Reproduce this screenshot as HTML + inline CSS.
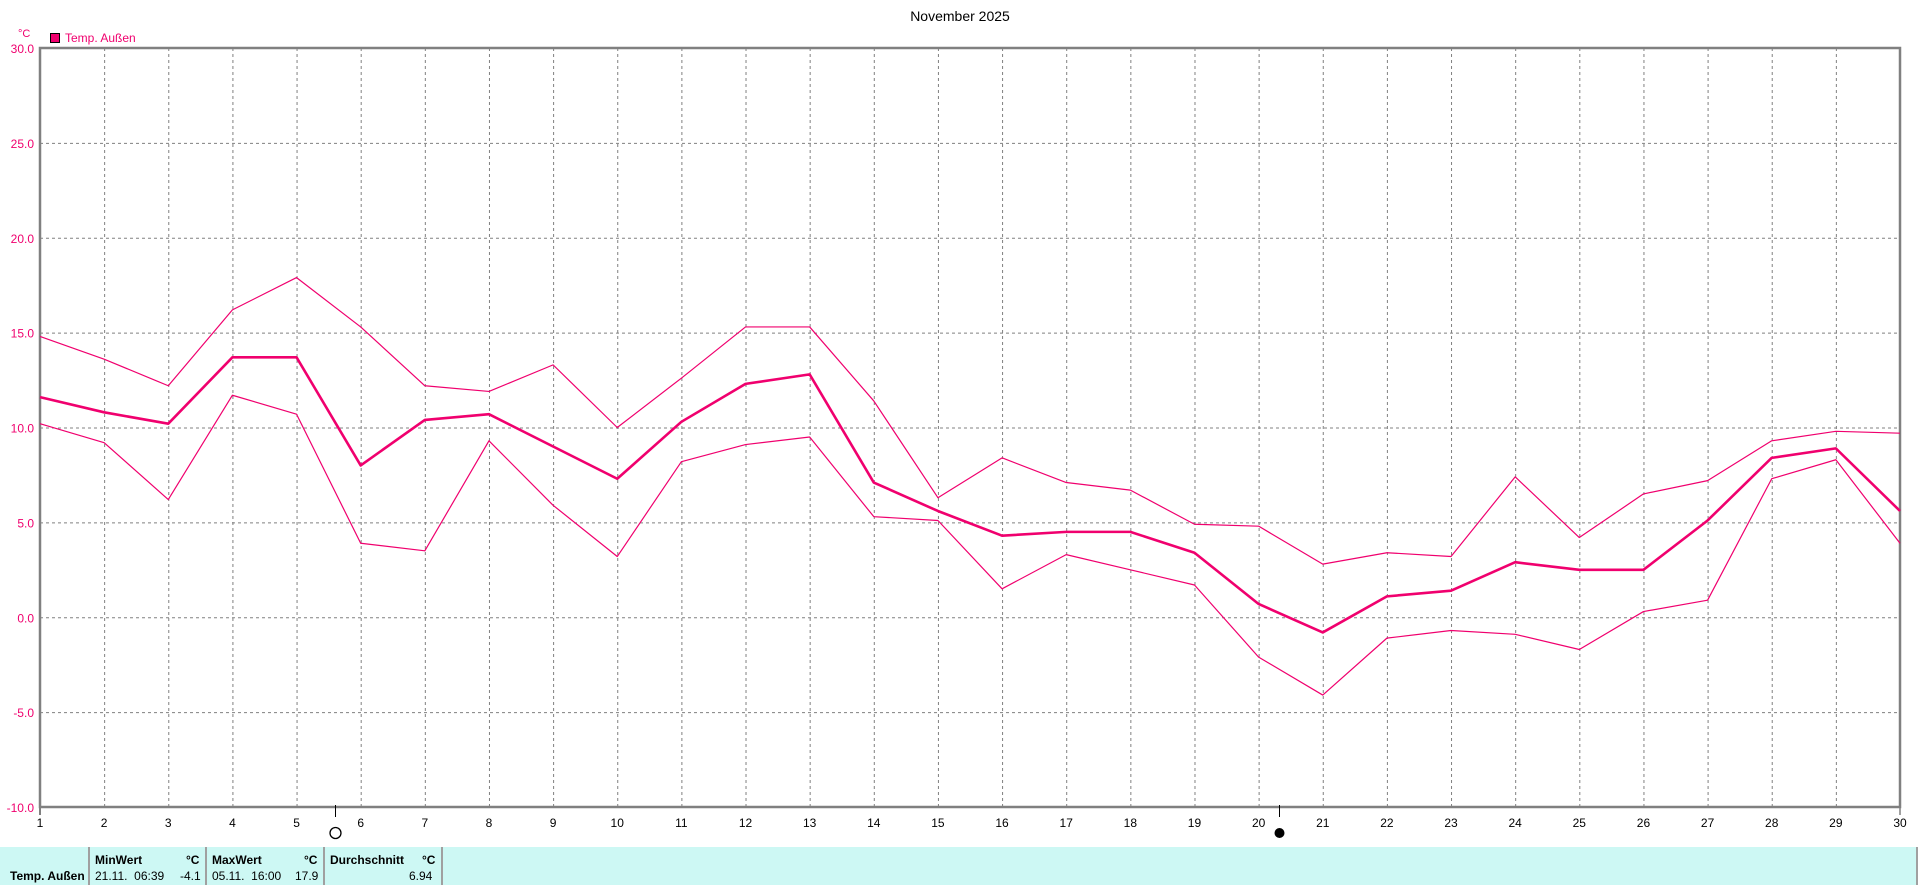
<!DOCTYPE html>
<html><head><meta charset="utf-8"><style>
html,body{margin:0;padding:0;background:#fff;width:1920px;height:885px;overflow:hidden}
svg text{font-family:"Liberation Sans",Arial,sans-serif}
.tb{position:absolute;left:0;top:847px;width:1918px;height:38px;background:#cdf8f4;font-family:"Liberation Sans",Arial,sans-serif;font-size:12px;}
.tb div{position:absolute}
.b{font-weight:bold}
.sep{position:absolute;top:0;width:2px;height:38px;background:#a0a0a0}
</style></head><body>
<svg id="s" width="1920" height="885" style="position:absolute;left:0;top:0"></svg>
<div class="tb">
<div class="sep" style="left:88px"></div><div class="sep" style="left:205px"></div><div class="sep" style="left:323px"></div><div class="sep" style="left:441px"></div><div class="sep" style="left:1916px"></div>
<div class="b" style="left:10px;top:22px">Temp. Außen</div>
<div class="b" style="left:95px;top:6px">MinWert</div><div class="b" style="left:186px;top:6px">°C</div>
<div style="left:95px;top:22px">21.11.&nbsp; 06:39</div><div style="left:180px;top:22px">-4.1</div>
<div class="b" style="left:212px;top:6px">MaxWert</div><div class="b" style="left:304px;top:6px">°C</div>
<div style="left:212px;top:22px">05.11.&nbsp; 16:00</div><div style="left:295px;top:22px">17.9</div>
<div class="b" style="left:330px;top:6px">Durchschnitt</div><div class="b" style="left:422px;top:6px">°C</div>
<div style="left:409px;top:22px">6.94</div>
</div>
<script>
var L=40,R=1900,T=48,B=807,C="#f0006e";
function X(d){return L+(d-1)*(R-L)/29}
function Y(v){return B-(v+10)*(B-T)/40}
var mean=[11.6,10.8,10.2,13.7,13.7,8.0,10.4,10.7,9.0,7.3,10.3,12.3,12.8,7.1,5.6,4.3,4.5,4.5,3.4,0.7,-0.8,1.1,1.4,2.9,2.5,2.5,5.1,8.4,8.9,5.6];
var mx=[14.8,13.6,12.2,16.2,17.9,15.3,12.2,11.9,13.3,10.0,12.6,15.3,15.3,11.4,6.3,8.4,7.1,6.7,4.9,4.8,2.8,3.4,3.2,7.4,4.2,6.5,7.2,9.3,9.8,9.7];
var mn=[10.2,9.2,6.2,11.7,10.7,3.9,3.5,9.3,5.9,3.2,8.2,9.1,9.5,5.3,5.1,1.5,3.3,2.5,1.7,-2.1,-4.1,-1.1,-0.7,-0.9,-1.7,0.3,0.9,7.3,8.3,3.9];
var h='';
h+='<text x="960" y="21" font-size="14" text-anchor="middle" fill="#000">November 2025</text>';
h+='<text x="18" y="37" font-size="11" fill="'+C+'">°C</text>';
h+='<rect x="50.5" y="33.5" width="9" height="9" fill="'+C+'" stroke="#000"/>';
h+='<text x="65" y="42" font-size="12" fill="'+C+'">Temp. Außen</text>';
for(var d=2;d<=29;d++)h+='<line x1="'+(X(d)+.5)+'" y1="'+T+'" x2="'+(X(d)+.5)+'" y2="'+B+'" stroke="#808080" stroke-dasharray="3,3"/>';
for(var v=-5;v<=25;v+=5)h+='<line x1="'+L+'" y1="'+(Y(v)+.5)+'" x2="'+R+'" y2="'+(Y(v)+.5)+'" stroke="#808080" stroke-dasharray="3,3"/>';
for(var v=-10;v<=30;v+=5)h+='<text x="34" y="'+(Y(v)+5)+'" font-size="12" text-anchor="end" fill="'+C+'">'+v.toFixed(1)+'</text>';
for(var d=1;d<=30;d++)h+='<text x="'+X(d)+'" y="827" font-size="12" text-anchor="middle" fill="#000">'+d+'</text>';
h+='<rect x="'+L+'" y="'+T+'" width="'+(R-L)+'" height="'+(B-T)+'" fill="none" stroke="#808080" stroke-width="2.5"/>';
h+='<line x1="40" y1="807" x2="40" y2="815" stroke="#808080" stroke-width="2"/><line x1="1900" y1="807" x2="1900" y2="815" stroke="#808080" stroke-width="1.5"/>';
function pl(a,w){return '<polyline fill="none" stroke="'+C+'" stroke-width="'+w+'" stroke-linejoin="round" points="'+a.map(function(v,i){return X(i+1)+','+Y(v)}).join(' ')+'"/>'}
h+=pl(mx,1.2)+pl(mn,1.2)+pl(mean,2.6);
h+='<line x1="335.5" y1="805" x2="335.5" y2="817" stroke="#000"/><circle cx="335.5" cy="833" r="5.5" fill="none" stroke="#000" stroke-width="1.3"/>';
h+='<line x1="1279.5" y1="805" x2="1279.5" y2="817" stroke="#000"/><circle cx="1279.5" cy="833" r="5" fill="#000"/>';
document.getElementById('s').innerHTML=h;
</script>
</body></html>
